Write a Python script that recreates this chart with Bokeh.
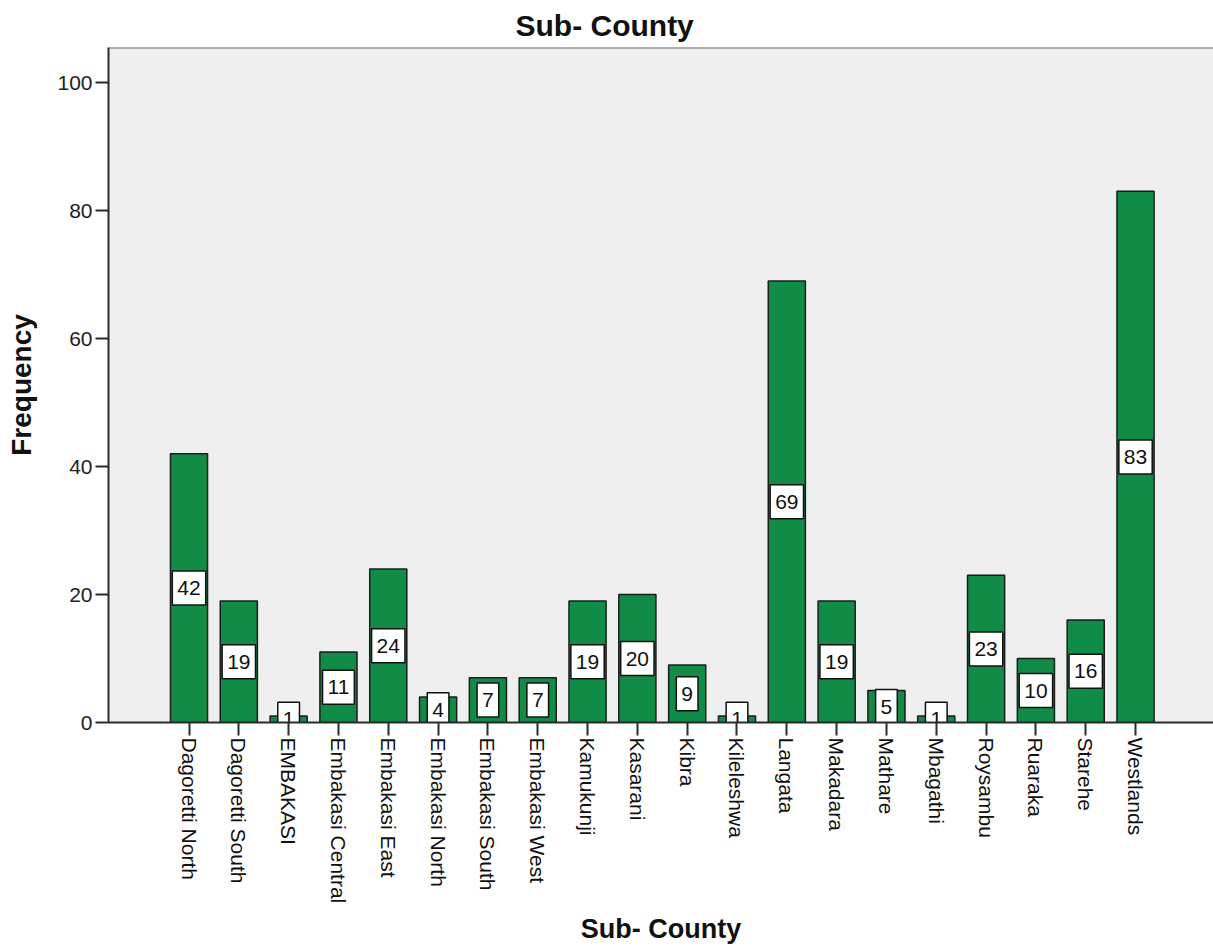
import math
from bokeh.plotting import figure
from bokeh.models import ColumnDataSource, FixedTicker, Range1d, Span
from bokeh.core.properties import value
from bokeh.embed import file_html
from bokeh.resources import INLINE

categories = ["Dagoretti North", "Dagoretti South", "EMBAKASI", "Embakasi Central",
              "Embakasi East", "Embakasi North", "Embakasi South", "Embakasi West",
              "Kamukunji", "Kasarani", "Kibra", "Kileleshwa", "Langata", "Makadara",
              "Mathare", "Mbagathi", "Roysambu", "Ruaraka", "Starehe", "Westlands"]
frequencies = [42, 19, 1, 11, 24, 4, 7, 7, 19, 20, 9, 1, 69, 19, 5, 1, 23, 10, 16, 83]
y_ticks = [0, 20, 40, 60, 80, 100]

xs = list(range(len(categories)))
src = ColumnDataSource(dict(
    x=xs,
    top=frequencies,
    mid=[v / 2 for v in frequencies],
    label=[str(v) for v in frequencies],
))

FONT = "Liberation Sans"
Y_END = 105.47

p = figure(frame_width=1105, frame_height=675,
           x_range=Range1d(-1.616, 20.565), y_range=Range1d(0, Y_END),
           output_backend="svg", toolbar_location=None,
           min_border_left=108, min_border_right=0, min_border_top=47, min_border_bottom=0,
           title="Sub- County")

p.background_fill_color = "#EFEFEF"
p.border_fill_color = "white"
p.outline_line_color = None
p.xgrid.visible = False
p.ygrid.visible = False

p.title.align = "left"
p.title.offset = 407
p.title.text_font = FONT
p.title.text_font_size = "30px"
p.title.text_font_style = "bold"
p.title.text_color = "#111111"
p.title.standoff = 11

p.vbar(x="x", top="top", width=0.745, bottom=0, source=src,
       fill_color="#118C46", line_color="#1c1c1c", line_width=1.5)

p.text(x="x", y="mid", text="label", source=src,
       text_align="center", text_baseline="middle",
       text_font=value(FONT), text_font_size="21px", text_color="#111111",
       background_fill_color="white", border_line_color="#111111",
       border_line_width=1.5, padding={"x": 5, "y": 10})

top_line = Span(location=Y_END, dimension="width", line_color="#666666", line_width=2)
p.add_layout(top_line)

# x axis
xa = p.xaxis[0]
xa.ticker = FixedTicker(ticks=xs)
xa.major_label_overrides = {i: c for i, c in enumerate(categories)}
xa.major_label_orientation = -math.pi / 2
xa.major_label_text_font = FONT
xa.major_label_text_font_size = "21px"
xa.major_label_text_color = "#111111"
xa.major_label_standoff = 2
xa.major_tick_out = 13
xa.major_tick_in = 0
xa.minor_tick_out = 0
xa.minor_tick_in = 0
xa.major_tick_line_width = 2
xa.major_tick_line_color = "#2b2b2b"
xa.axis_line_width = 2
xa.axis_line_color = "#2b2b2b"
xa.axis_label = "Sub- County"
xa.axis_label_text_font = FONT
xa.axis_label_text_font_size = "27px"
xa.axis_label_text_font_style = "bold"
xa.axis_label_text_color = "#111111"
xa.axis_label_standoff = 8

# y axis
ya = p.yaxis[0]
ya.ticker = FixedTicker(ticks=y_ticks)
ya.major_label_text_font = FONT
ya.major_label_text_font_size = "21px"
ya.major_label_text_color = "#222222"
ya.major_label_standoff = 3
ya.major_tick_out = 13
ya.major_tick_in = 0
ya.minor_tick_out = 0
ya.minor_tick_in = 0
ya.major_tick_line_width = 2
ya.major_tick_line_color = "#2b2b2b"
ya.axis_line_width = 2
ya.axis_line_color = "#2b2b2b"
ya.axis_label = "Frequency"
ya.axis_label_text_font = FONT
ya.axis_label_text_font_size = "28px"
ya.axis_label_text_font_style = "bold"
ya.axis_label_text_color = "#111111"
ya.axis_label_standoff = 17

open("out.html", "w").write(file_html(p, INLINE))
